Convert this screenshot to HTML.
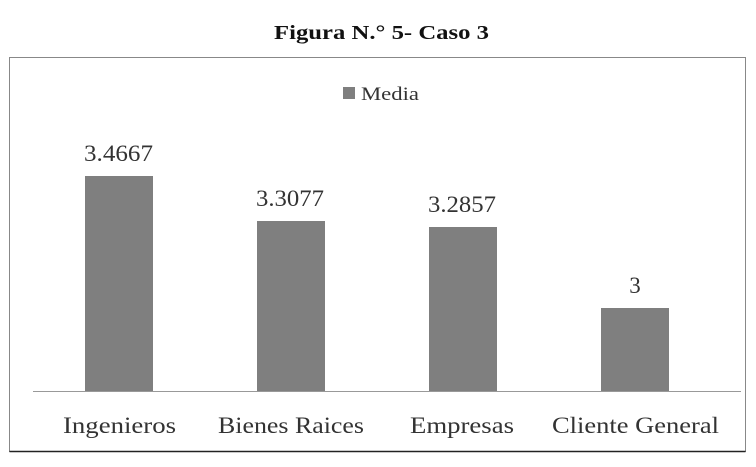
<!DOCTYPE html>
<html><head><meta charset="utf-8"><style>
body{margin:0;background:#fff;}
</style></head><body>
<svg width="756" height="462" xmlns="http://www.w3.org/2000/svg" font-family="Liberation Serif, serif">
<text x="274" y="39" font-size="20" font-weight="bold" fill="#111" textLength="215" lengthAdjust="spacingAndGlyphs">Figura N.° 5- Caso 3</text>
<rect x="9.5" y="57.5" width="736" height="394" fill="#fff" stroke="#888" stroke-width="1"/>
<line x1="9.5" y1="451.5" x2="745.5" y2="451.5" stroke="#222" stroke-width="1.5"/>
<rect x="343" y="87" width="12" height="12" fill="#7f7f7f"/>
<text x="361" y="100" font-size="19" fill="#333" textLength="58" lengthAdjust="spacingAndGlyphs">Media</text>
<line x1="33" y1="391.5" x2="741" y2="391.5" stroke="#999" stroke-width="1"/>
<g fill="#7f7f7f">
<rect x="85" y="176" width="68" height="215"/>
<rect x="257" y="221" width="68" height="170"/>
<rect x="429" y="227" width="68" height="164"/>
<rect x="601" y="308" width="68" height="83"/>
</g>
<g font-size="23" fill="#333" lengthAdjust="spacingAndGlyphs">
<text x="84" y="161" textLength="69" lengthAdjust="spacingAndGlyphs">3.4667</text>
<text x="256" y="206" textLength="68" lengthAdjust="spacingAndGlyphs">3.3077</text>
<text x="428" y="212" textLength="68" lengthAdjust="spacingAndGlyphs">3.2857</text>
<text x="635" y="293" text-anchor="middle">3</text>
<text x="63" y="433" textLength="113" lengthAdjust="spacingAndGlyphs">Ingenieros</text>
<text x="218" y="433" textLength="146" lengthAdjust="spacingAndGlyphs">Bienes Raices</text>
<text x="410" y="433" textLength="104" lengthAdjust="spacingAndGlyphs">Empresas</text>
<text x="552" y="433" textLength="167" lengthAdjust="spacingAndGlyphs">Cliente General</text>
</g>
</svg>
</body></html>
